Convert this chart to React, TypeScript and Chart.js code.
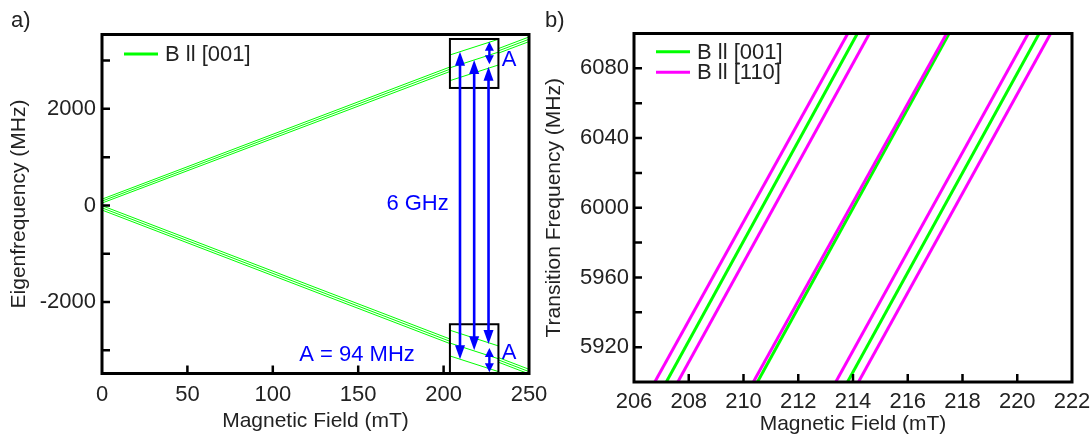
import React, { useEffect, useRef } from 'react';
import { Chart, registerables } from 'chart.js';
Chart.register(...registerables);

const FONT = '"Liberation Sans", Arial, Helvetica, sans-serif';
const TEXT = '#222222';
const GREEN = '#00ff00';
const MAGENTA = '#ff00ff';
const BLUE = '#0000ff';

// ---------- Panel a) eigenfrequencies ----------
const eigFieldEnds = [0, 250];
const upperLevelStart = [130, 90, 50];
const upperLevelEnd = [3489, 3441, 3393];
const lowerLevelStart = [-5, -50, -95];
const lowerLevelEnd = [-3393, -3441, -3489];
// magnified insets
const insetField = [203.7, 232.1];
const insetUpperStart = [3116, 2850, 2584];
const insetUpperEnd = [3441, 3175, 2909];
const insetLowerStart = [-2584, -2850, -3116];
const insetLowerEnd = [-2909, -3175, -3441];
const upperBoxE = [2433, 3447];
const lowerBoxE = [-3474, -2460];
// transition arrows
const arrowField = [209.6, 217.9, 226.3];
const arrowTopE = [3184, 3012, 2874];
const arrowBottomE = [-3184, -3000, -2870];
const splitField = 226.8;
const upperSplitE = [3391, 2923];
const lowerSplitE = [-2950, -3454];
const splitLabelPos = [238.3, 3012, -3048];
const ghzLabelPos = [203.0, 30];
const hfLabelPos = [149.3, -3089];
const eigXTicks = [0, 50, 100, 150, 200, 250];
const eigXMarks = [50, 100, 150, 200];
const eigYTicks = [-2000, 0, 2000];
const eigYMarks = [-3000, -2000, -1000, 0, 1000, 2000, 3000];
const eigXRange = [0, 250];
const eigYRange = [-3480, 3540];

// ---------- Panel b) transition frequencies ----------
const transFreqEnds = [5900, 6100];
const b001Low = [207.18, 210.51, 213.8];
const b001High = [214.16, 217.51, 220.8];
const b110Low = [206.76, 207.6, 210.36, 213.37, 214.2];
const b110High = [213.81, 214.6, 217.42, 220.4, 221.22];
const transXTicks = [206, 208, 210, 212, 214, 216, 218, 220, 222];
const transXMarks = [208, 210, 212, 214, 216, 218, 220];
const transYTicks = [5920, 5960, 6000, 6040, 6080];
const transYMarks = [5920, 5940, 5960, 5980, 6000, 6020, 6040, 6060, 6080];
const transXRange = [206, 222];
const transYRange = [5900, 6100];

const legendA = [{ label: 'B ll [001]', color: GREEN }];
const legendB = [
  { label: 'B ll [001]', color: GREEN },
  { label: 'B ll [110]', color: MAGENTA },
];

function seg(x0: number, x1: number, y0: number, y1: number) {
  return [
    { x: x0, y: y0 },
    { x: x1, y: y1 },
  ];
}

function axis(range: number[], ticks: number[], size: number, isX: boolean, tickPad: number, title: string, titlePad: any) {
  return {
    type: 'linear',
    min: range[0],
    max: range[1],
    afterBuildTicks: (s: any) => {
      s.ticks = ticks.map((v) => ({ value: v }));
    },
    afterFit: (s: any) => {
      if (isX) s.height = size;
      else s.width = size;
      s.paddingLeft = 0;
      s.paddingRight = 0;
      s.paddingTop = 0;
      s.paddingBottom = 0;
    },
    grid: { display: false, drawTicks: false },
    border: { display: false },
    ticks: {
      autoSkip: false,
      maxRotation: 0,
      padding: tickPad,
      color: TEXT,
      font: { family: FONT, size: 22 },
      callback: (v: any) => String(v),
    },
    title: { display: true, text: title, color: TEXT, font: { family: FONT, size: 21 }, padding: titlePad },
  };
}

const framePlugin = {
  id: 'frame',
  afterDraw(chart: any, _a: any, opts: any) {
    const { ctx, chartArea: a, scales } = chart;
    ctx.save();
    ctx.strokeStyle = '#000';
    ctx.lineWidth = 2.5;
    ctx.beginPath();
    for (const v of opts.xMarks) {
      const px = scales.x.getPixelForValue(v);
      ctx.moveTo(px, a.bottom);
      ctx.lineTo(px, a.bottom - 8);
    }
    for (const v of opts.yMarks) {
      const py = scales.y.getPixelForValue(v);
      ctx.moveTo(a.left, py);
      ctx.lineTo(a.left + 8, py);
    }
    ctx.stroke();
    ctx.lineWidth = 3;
    ctx.strokeRect(a.left, a.top, a.right - a.left, a.bottom - a.top);
    // legend
    ctx.font = `22px ${FONT}`;
    ctx.textBaseline = 'middle';
    ctx.textAlign = 'left';
    opts.legend.forEach((it: any, i: number) => {
      const y = a.top + opts.legendTop + i * 20.6;
      ctx.strokeStyle = it.color;
      ctx.lineWidth = 3;
      ctx.beginPath();
      ctx.moveTo(a.left + 22, y);
      ctx.lineTo(a.left + 56, y);
      ctx.stroke();
      ctx.fillStyle = TEXT;
      ctx.fillText(it.label, a.left + 63, y + 1);
    });
    // panel label
    ctx.font = `22px ${FONT}`;
    ctx.fillStyle = TEXT;
    ctx.fillText(opts.panel, opts.panelX, 21);
    ctx.restore();
  },
};

function head(ctx: any, x: number, tipY: number, d: number, hl: number, hw: number) {
  ctx.beginPath();
  ctx.moveTo(x, tipY);
  ctx.lineTo(x - hw, tipY - d * hl);
  ctx.lineTo(x + hw, tipY - d * hl);
  ctx.closePath();
  ctx.fill();
}

function dblArrow(ctx: any, x: number, yTop: number, yBot: number, lw: number, hl: number, hw: number) {
  ctx.lineWidth = lw;
  ctx.beginPath();
  ctx.moveTo(x, yTop + hl - 1);
  ctx.lineTo(x, yBot - hl + 1);
  ctx.stroke();
  head(ctx, x, yTop, -1, hl, hw);
  head(ctx, x, yBot, 1, hl, hw);
}

const eigPlugin = {
  id: 'eigAnnot',
  beforeDatasetsDraw(chart: any) {
    chart.$insetDone = false;
  },
  beforeDatasetDraw(chart: any, args: any) {
    const ds = chart.data.datasets[args.index];
    if (ds.inset && !chart.$insetDone) {
      chart.$insetDone = true;
      const { ctx } = chart;
      const sx = chart.scales.x;
      const sy = chart.scales.y;
      ctx.save();
      ctx.fillStyle = '#ffffff';
      for (const box of [upperBoxE, lowerBoxE]) {
        const l = sx.getPixelForValue(insetField[0]);
        const r = sx.getPixelForValue(insetField[1]);
        const t = sy.getPixelForValue(box[1]);
        const b = sy.getPixelForValue(box[0]);
        ctx.fillRect(l, t, r - l, b - t);
      }
      ctx.restore();
    }
  },
  afterDatasetsDraw(chart: any) {
    const { ctx } = chart;
    const sx = chart.scales.x;
    const sy = chart.scales.y;
    ctx.save();
    ctx.strokeStyle = '#000';
    ctx.lineWidth = 2;
    for (const box of [upperBoxE, lowerBoxE]) {
      const l = sx.getPixelForValue(insetField[0]);
      const r = sx.getPixelForValue(insetField[1]);
      const t = sy.getPixelForValue(box[1]);
      const b = sy.getPixelForValue(box[0]);
      ctx.strokeRect(l, t, r - l, b - t);
    }
    ctx.strokeStyle = BLUE;
    ctx.fillStyle = BLUE;
    arrowField.forEach((f, i) => {
      const x = sx.getPixelForValue(f);
      dblArrow(ctx, x, sy.getPixelForValue(arrowTopE[i]), sy.getPixelForValue(arrowBottomE[i]), 2.6, 14, 5);
    });
    const xs = sx.getPixelForValue(splitField);
    dblArrow(ctx, xs, sy.getPixelForValue(upperSplitE[0]), sy.getPixelForValue(upperSplitE[1]), 2.4, 9, 4.5);
    dblArrow(ctx, xs, sy.getPixelForValue(lowerSplitE[0]), sy.getPixelForValue(lowerSplitE[1]), 2.4, 9, 4.5);
    ctx.font = `22px ${FONT}`;
    ctx.textBaseline = 'middle';
    ctx.textAlign = 'center';
    ctx.fillText('A', sx.getPixelForValue(splitLabelPos[0]), sy.getPixelForValue(splitLabelPos[1]));
    ctx.fillText('A', sx.getPixelForValue(splitLabelPos[0]), sy.getPixelForValue(splitLabelPos[2]));
    ctx.fillText('A = 94 MHz', sx.getPixelForValue(hfLabelPos[0]), sy.getPixelForValue(hfLabelPos[1]));
    ctx.textAlign = 'right';
    ctx.fillText('6 GHz', sx.getPixelForValue(ghzLabelPos[0]), sy.getPixelForValue(ghzLabelPos[1]));
    ctx.restore();
  },
};

function eigConfig(): any {
  const datasets: any[] = [];
  upperLevelStart.forEach((s, i) =>
    datasets.push({ data: seg(eigFieldEnds[0], eigFieldEnds[1], s, upperLevelEnd[i]), borderColor: GREEN, borderWidth: 1, order: 2 })
  );
  lowerLevelStart.forEach((s, i) =>
    datasets.push({ data: seg(eigFieldEnds[0], eigFieldEnds[1], s, lowerLevelEnd[i]), borderColor: GREEN, borderWidth: 1, order: 2 })
  );
  insetUpperStart.forEach((s, i) =>
    datasets.push({ data: seg(insetField[0], insetField[1], s, insetUpperEnd[i]), borderColor: GREEN, borderWidth: 1, order: 1, inset: true })
  );
  insetLowerStart.forEach((s, i) =>
    datasets.push({ data: seg(insetField[0], insetField[1], s, insetLowerEnd[i]), borderColor: GREEN, borderWidth: 1, order: 1, inset: true })
  );
  return {
    type: 'line',
    data: { datasets: datasets.map((d) => ({ ...d, pointRadius: 0, fill: false, tension: 0 })) },
    options: {
      animation: false,
      responsive: false,
      maintainAspectRatio: false,
      events: [],
      layout: { padding: { left: 0, top: 34.5, right: 31, bottom: 0 } },
      plugins: {
        legend: { display: false },
        tooltip: { enabled: false },
        frame: { xMarks: eigXMarks, yMarks: eigYMarks, legend: legendA, legendTop: 19.5, panel: 'a)', panelX: 11 },
      },
      scales: {
        x: axis(eigXRange, eigXTicks, 63.5, true, 8, 'Magnetic Field (mT)', { top: 0, bottom: 3 }),
        y: axis(eigYRange, eigYTicks, 102, false, 6, 'Eigenfrequency (MHz)', { top: 7, bottom: 0 }),
      },
    },
    plugins: [eigPlugin, framePlugin],
  };
}

function transConfig(): any {
  const datasets: any[] = [];
  b110Low.forEach((s, i) =>
    datasets.push({ data: seg(s, b110High[i], transFreqEnds[0], transFreqEnds[1]), borderColor: MAGENTA, borderWidth: 3 })
  );
  b001Low.forEach((s, i) =>
    datasets.push({ data: seg(s, b001High[i], transFreqEnds[0], transFreqEnds[1]), borderColor: GREEN, borderWidth: 3 })
  );
  return {
    type: 'line',
    data: { datasets: datasets.map((d) => ({ ...d, pointRadius: 0, fill: false, tension: 0 })) },
    options: {
      animation: false,
      responsive: false,
      maintainAspectRatio: false,
      events: [],
      layout: { padding: { left: 0, top: 33.5, right: 18, bottom: 0 } },
      plugins: {
        legend: { display: false },
        tooltip: { enabled: false },
        frame: { xMarks: transXMarks, yMarks: transYMarks, legend: legendB, legendTop: 18.2, panel: 'b)', panelX: 5 },
      },
      scales: {
        x: axis(transXRange, transXTicks, 55, true, 7, 'Magnetic Field (mT)', { top: 0, bottom: 0 }),
        y: axis(transYRange, transYTicks, 94, false, 5, 'Transition Frequency (MHz)', { top: 2, bottom: 0 }),
      },
    },
    plugins: [framePlugin],
  };
}

export default function App() {
  const leftRef = useRef<HTMLCanvasElement>(null);
  const rightRef = useRef<HTMLCanvasElement>(null);
  useEffect(() => {
    const c1 = new Chart(leftRef.current as HTMLCanvasElement, eigConfig());
    const c2 = new Chart(rightRef.current as HTMLCanvasElement, transConfig());
    return () => {
      c1.destroy();
      c2.destroy();
    };
  }, []);
  return (
    <div style={{ position: 'fixed', left: 0, top: 0, width: 1090, height: 437, background: '#ffffff', overflow: 'hidden' }}>
      <canvas ref={leftRef} width={560} height={437} style={{ position: 'absolute', left: 0, top: 0, width: 560, height: 437 }} />
      <canvas ref={rightRef} width={550} height={437} style={{ position: 'absolute', left: 540, top: 0, width: 550, height: 437 }} />
    </div>
  );
}
